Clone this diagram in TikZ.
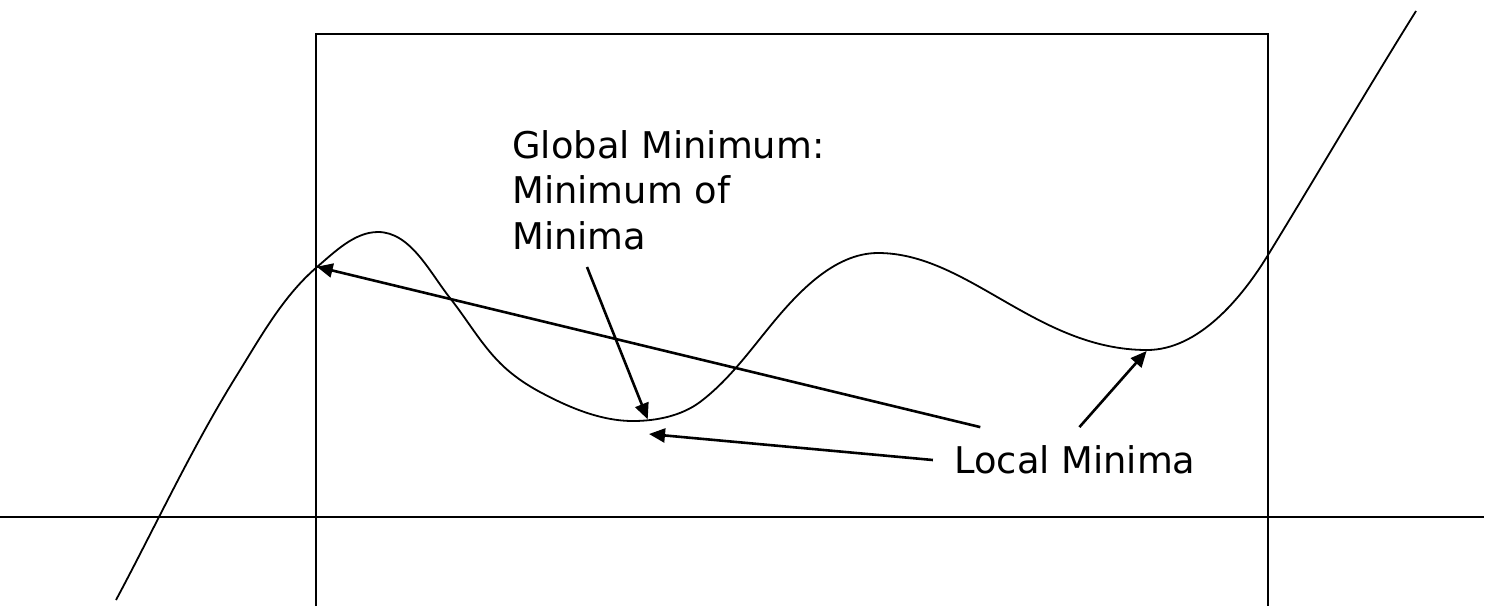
\documentclass[tikz,border=0pt]{standalone}
\usepackage{fontspec}
\setmainfont{DejaVu Sans}
\usetikzlibrary{arrows.meta}
\tikzset{
  curveline/.style={line width=0.9pt, line join=round},
  frameline/.style={line width=1pt},
  axisline/.style={line width=0.9pt},
  pointer/.style={line width=1.3pt, -{Triangle[length=8pt,width=7pt]}},
  lbl/.style={inner sep=0pt, font=\fontsize{18.4}{22.75}\selectfont}
}
\begin{document}
\begin{tikzpicture}[x=0.5pt,y=-0.5pt]
\useasboundingbox (0,0) rectangle (1486,606);
% frame (open at bottom)
\draw[frameline] (315.7,606) -- (315.7,34) -- (1267.7,34) -- (1267.7,606);
% axis
\draw[axisline] (0,517) -- (1484,517);
% function curve
\draw[curveline] (116,600)
  .. controls (156,525.2) and (192,447.3) .. (237,375)
  .. controls (260.7,336.9) and (283,296.1) .. (317,267)
  .. controls (334.8,251.8) and (354.6,232) .. (378,232)
  .. controls (410.6,232) and (429.8,272.6) .. (450,298)
  .. controls (466.9,319.3) and (480.7,343.7) .. (500,363)
  .. controls (511.7,374.7) and (525.5,384.2) .. (540,392)
  .. controls (568.6,407.3) and (600.5,421) .. (633,421)
  .. controls (656.2,421) and (681.4,415.9) .. (700,402)
  .. controls (726.2,382.3) and (746.3,355.6) .. (767,330)
  .. controls (795.4,294.9) and (833,253) .. (878,253)
  .. controls (968,253) and (1037,350) .. (1147,350)
  .. controls (1198.3,350) and (1241.3,298.6) .. (1268,255)
  .. controls (1317.5,174.2) and (1365.6,91.8) .. (1416,11);
% labels
\node[lbl, anchor=north west, align=left] (glob) at (512,130) {Global Minimum:\\Minimum of\\Minima};
\node[lbl, anchor=base west] (loc) at (954,473.5) {Local Minima};
% arrow end points
\coordinate (gtail) at (587,267);
\coordinate (gtip) at (647.7,419.3);
\coordinate (t1) at (980.3,427.1);
\coordinate (p1) at (316.7,266.7);
\coordinate (t2) at (932.9,460);
\coordinate (p2) at (649,434);
\coordinate (t3) at (1079.4,427.1);
\coordinate (p3) at (1146.6,351);
\draw[pointer] (gtail) -- (gtip);
\draw[pointer] (t1) -- (p1);
\draw[pointer] (t2) -- (p2);
\draw[pointer] (t3) -- (p3);
\end{tikzpicture}
\end{document}
